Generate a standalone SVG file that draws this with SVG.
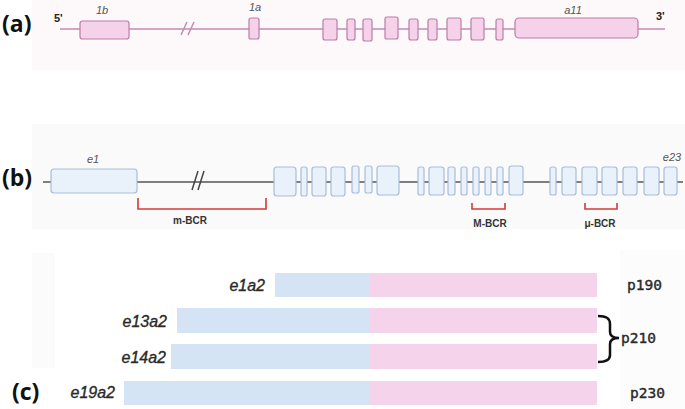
<svg xmlns="http://www.w3.org/2000/svg" width="685" height="409" viewBox="0 0 685 409">
<style>
.panel-lbl{font-family:"Open Sans","Liberation Sans",sans-serif;font-weight:bold;font-size:23px;fill:#111}
.end{font-family:"Liberation Sans",sans-serif;font-weight:bold;font-size:11px;fill:#222}
.exlbl{font-family:"Liberation Sans",sans-serif;font-style:italic;font-size:11px;fill:#555;text-anchor:middle}
.ea{fill:#f6d2ea;stroke:#b97ea6;stroke-width:1.2}
.eb{fill:#e9f1fb;stroke:#a9bdd9;stroke-width:1.2}
.la{stroke:#c08db0;stroke-width:1.5;fill:none}
.lb{stroke:#555;stroke-width:1.5;fill:none}
.brk{stroke:#d33a3a;stroke-width:1.6;fill:none}
.bcr{font-family:"Liberation Sans",sans-serif;font-weight:bold;font-size:10px;fill:#333;text-anchor:middle}
.tr{font-family:"Liberation Sans",sans-serif;font-style:italic;font-size:16px;fill:#2a2a2a;stroke:#2a2a2a;stroke-width:0.35;text-anchor:end}
.pl{font-family:"DejaVu Sans Mono",monospace;font-size:14.5px;fill:#2a2a2a;stroke:#2a2a2a;stroke-width:0.4}
.blue{fill:#d4e4f4}
.pink{fill:#f5d4eb}
</style>
<rect x="32" y="0" width="653" height="70" fill="#fdf8f9"/>
<rect x="32" y="124" width="653" height="105" fill="#fafafa"/>
<rect x="32" y="253" width="23" height="115" fill="#fcfbfb"/>
<rect x="620" y="250" width="65" height="159" fill="#fdfcfc"/>

<text class="panel-lbl" x="2" y="32">(a)</text>
<text class="panel-lbl" x="2" y="186">(b)</text>
<text class="panel-lbl" x="12" y="400">(c)</text>

<g id="connectors">
<line class="la" x1="60" y1="29" x2="665" y2="29"/>
<path class="la" d="M181,35 L187,22 M188,35 L194,22"/>
<line class="lb" x1="43" y1="182" x2="683" y2="182"/>
<path d="M192,190 L198,171 M198,190 L204,171" stroke="#444" stroke-width="1.5" fill="none"/>
</g>

<g id="gene-a">
<text class="end" x="54" y="22">5'</text>
<text class="end" x="656" y="20">3'</text>
<g id="a-1b"><rect class="ea" x="80" y="21" width="49" height="18" rx="2.5"/><text class="exlbl" x="102" y="14">1b</text></g>
<g id="a-1a"><rect class="ea" x="249" y="18" width="10" height="21" rx="2"/><text class="exlbl" x="255" y="11">1a</text></g>
<g id="a-exons">
<rect class="ea" x="323" y="19" width="14" height="21" rx="2"/>
<rect class="ea" x="347" y="19" width="8" height="21" rx="2"/>
<rect class="ea" x="363" y="19" width="9" height="22" rx="2"/>
<rect class="ea" x="385" y="17" width="13" height="22" rx="2"/>
<rect class="ea" x="409" y="19" width="9" height="21" rx="2"/>
<rect class="ea" x="428" y="19" width="9" height="21" rx="2"/>
<rect class="ea" x="447" y="18" width="14" height="22" rx="2"/>
<rect class="ea" x="471" y="18" width="13" height="22" rx="2"/>
<rect class="ea" x="496" y="19" width="7" height="21" rx="2"/>
</g>
<g id="a-a11"><rect class="ea" x="515" y="18" width="123" height="20" rx="4"/><text class="exlbl" x="573" y="14">a11</text></g>
</g>

<g id="gene-b">
<g id="b-e1"><rect class="eb" x="51" y="169" width="86" height="24" rx="3"/><text class="exlbl" x="93" y="163">e1</text></g>
<g id="b-exons">
<rect class="eb" x="274" y="167" width="22" height="29" rx="3"/>
<rect class="eb" x="301" y="167" width="6" height="29" rx="2"/>
<rect class="eb" x="312" y="167" width="14" height="29" rx="2.5"/>
<rect class="eb" x="331" y="167" width="14" height="29" rx="2.5"/>
<rect class="eb" x="352" y="166" width="7" height="27" rx="2"/>
<rect class="eb" x="365" y="166" width="7" height="27" rx="2"/>
<rect class="eb" x="377" y="166" width="22" height="29" rx="3"/>
<rect class="eb" x="418" y="167" width="6" height="28" rx="2"/>
<rect class="eb" x="429" y="167" width="15" height="28" rx="2.5"/>
<rect class="eb" x="448" y="167" width="7" height="28" rx="2"/>
<rect class="eb" x="461" y="167" width="6" height="28" rx="2"/>
<rect class="eb" x="473" y="167" width="6" height="28" rx="2"/>
<rect class="eb" x="485" y="167" width="6" height="28" rx="2"/>
<rect class="eb" x="497" y="167" width="6" height="28" rx="2"/>
<rect class="eb" x="509" y="166" width="14" height="29" rx="2.5"/>
<rect class="eb" x="550" y="167" width="6" height="28" rx="2"/>
<rect class="eb" x="562" y="167" width="14" height="28" rx="2.5"/>
<rect class="eb" x="582" y="167" width="15" height="28" rx="2.5"/>
<rect class="eb" x="602" y="167" width="15" height="28" rx="2.5"/>
<rect class="eb" x="623" y="167" width="14" height="28" rx="2.5"/>
<rect class="eb" x="644" y="167" width="15" height="28" rx="2.5"/>
</g>
<g id="b-e23"><rect class="eb" x="664" y="167" width="13" height="28" rx="2.5"/><text class="exlbl" x="672" y="161">e23</text></g>
<g id="m-bcr"><path class="brk" d="M138,198 V209 H266 V198"/><text class="bcr" x="190" y="224">m-BCR</text></g>
<g id="M-bcr"><path class="brk" d="M472,203 V209 H505 V203"/><text class="bcr" x="490" y="227">M-BCR</text></g>
<g id="mu-bcr"><path class="brk" d="M585,203 V209 H617 V203"/><text class="bcr" x="600" y="227">μ-BCR</text></g>
</g>

<g id="transcripts">
<g id="t-e1a2"><rect class="blue" x="275" y="273" width="96" height="24"/><rect class="pink" x="370" y="273" width="227" height="24"/><text class="tr" x="265" y="291">e1a2</text></g>
<g id="t-e13a2"><rect class="blue" x="177" y="308" width="194" height="25"/><rect class="pink" x="370" y="308" width="227" height="25"/><text class="tr" x="167" y="327">e13a2</text></g>
<g id="t-e14a2"><rect class="blue" x="171" y="344" width="200" height="25"/><rect class="pink" x="370" y="344" width="227" height="25"/><text class="tr" x="166" y="363">e14a2</text></g>
<g id="t-e19a2"><rect class="blue" x="124" y="381" width="247" height="24"/><rect class="pink" x="370" y="381" width="227" height="24"/><text class="tr" x="115" y="398">e19a2</text></g>
</g>

<g id="proteins">
<text class="pl" x="627" y="290">p190</text>
<path d="M598,316 C606,316 610,318 610,324 L610,332 C610,336 613,338 619,338 C613,338 610,340 610,344 L610,355 C610,360 606,362 598,362" stroke="#111" stroke-width="2.5" fill="none"/>
<text class="pl" x="621" y="343">p210</text>
<text class="pl" x="630" y="398">p230</text>
</g>
</svg>
